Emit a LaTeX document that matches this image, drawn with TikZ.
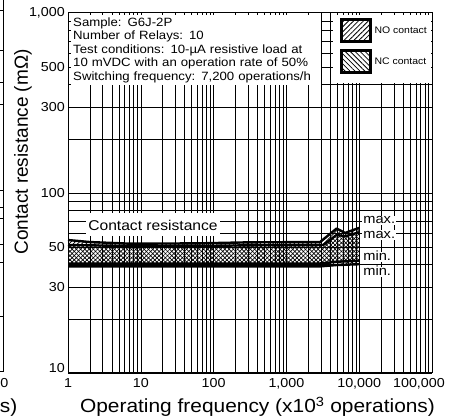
\documentclass[tikz,border=0pt]{standalone}
\usepackage{fontspec}
\setmainfont{Liberation Sans}[FakeStretch=1.1]
\newfontfamily\ytitlefont{Liberation Sans}
\usetikzlibrary{positioning, patterns.meta}

\begin{document}
\begin{tikzpicture}[x=1pt, y=1pt,
            declare function={lx(\ops)=72.8*log10(\ops); ly(\res)=180*(log10(\res)-1);},
            gridline/.style={line width=0.6pt},
            curve/.style={line width=2.4pt, line join=round},
            nohatch/.style={pattern={Lines[angle=45, distance=3pt, line width=0.7pt]}},
            nchatch/.style={pattern={Lines[angle=-45, distance=3pt, line width=0.7pt]}},
            ticklabel/.style={inner sep=0pt, font=\fontsize{13}{15}\selectfont},
            endlabel/.style={fill=white, inner sep=1.2pt, text height=7pt, text depth=0pt, anchor=west, font=\fontsize{13.3}{15}\selectfont},
            swatch/.style={draw, line width=3pt, minimum width=29pt, minimum height=22pt, inner sep=0pt},
            legendtext/.style={inner sep=0pt, font=\fontsize{9.5}{11}\selectfont}]

            \useasboundingbox (-68,-46) rectangle (386,373);

            % Edge of the neighbouring chart
            \draw[gridline] (-65,373) -- (-65,2) -- (-68,2);
            \foreach \r in {20,40,50,70,80,100,300,400,600,1000}
                \draw[gridline] (-68,{ly(\r)+2.7}) -- ++(3,0);
            \node[ticklabel, anchor=north east] (edgetick) at (-59.5,-5) {0};
            \node[inner sep=0pt, anchor=base east, font=\fontsize{19}{22}\selectfont] (edgetitle) at (-50.5,-40) {s)};

            % Log grid
            \foreach \d in {0,...,4}
                \foreach \m in {1,...,9}
                    \draw[gridline] ({72.8*(\d+log10(\m))},0) -- ++(0,360);
            \foreach \d in {0,1}
                \foreach \m in {1,...,9}
                    \draw[gridline] (0,{180*(\d+log10(\m))}) -- ++(364,0);

            % NO contact band
            \fill[nohatch]
                ({lx(1)},{ly(54.8)}) -- ({lx(2)},{ly(53.4)}) -- ({lx(7)},{ly(52.3)}) -- ({lx(60)},{ly(52.5)})
                -- ({lx(300)},{ly(53.2)}) -- ({lx(2900)},{ly(53.4)}) -- ({lx(4900)},{ly(63.5)}) -- ({lx(6400)},{ly(60)})
                -- ({lx(10000)},{ly(64)}) -- ({lx(10000)},{ly(40.2)}) -- ({lx(4900)},{ly(39.8)}) -- ({lx(2900)},{ly(39.1)})
                -- ({lx(1)},{ly(39.1)}) -- cycle;
            % NC contact band
            \fill[nchatch]
                ({lx(1)},{ly(51.4)}) -- ({lx(7)},{ly(50.8)}) -- ({lx(60)},{ly(50.8)}) -- ({lx(300)},{ly(51.2)})
                -- ({lx(3200)},{ly(51.4)}) -- ({lx(4900)},{ly(58.5)}) -- ({lx(6400)},{ly(57.5)}) -- ({lx(10000)},{ly(60.5)})
                -- ({lx(10000)},{ly(42)}) -- ({lx(4900)},{ly(41.5)}) -- ({lx(2900)},{ly(40.6)}) -- ({lx(1)},{ly(40.6)}) -- cycle;

            % max. and min. curves
            \draw[curve] ({lx(1)},{ly(54.8)}) -- ({lx(2)},{ly(53.4)}) -- ({lx(7)},{ly(52.3)}) -- ({lx(60)},{ly(52.5)})
                -- ({lx(300)},{ly(53.2)}) -- ({lx(2900)},{ly(53.4)}) -- ({lx(4900)},{ly(63.5)}) -- ({lx(6400)},{ly(60)})
                -- ({lx(10000)},{ly(64)});
            \draw[curve] ({lx(1)},{ly(51.4)}) -- ({lx(7)},{ly(50.8)}) -- ({lx(60)},{ly(50.8)}) -- ({lx(300)},{ly(51.2)})
                -- ({lx(3200)},{ly(51.4)}) -- ({lx(4900)},{ly(58.5)}) -- ({lx(6400)},{ly(57.5)}) -- ({lx(10000)},{ly(60.5)});
            \draw[curve] ({lx(1)},{ly(40.6)}) -- ({lx(2900)},{ly(40.6)}) -- ({lx(4900)},{ly(41.5)}) -- ({lx(10000)},{ly(42)});
            \draw[curve] ({lx(1)},{ly(39.1)}) -- ({lx(2900)},{ly(39.1)}) -- ({lx(4900)},{ly(39.8)}) -- ({lx(10000)},{ly(40.2)});

            % Test conditions box
            \node[fill=white, anchor=north west, text width=246pt, inner xsep=2pt, inner ysep=2.4pt, align=left,
                  font=\fontsize{12}{13.5}\selectfont] (info) at (3,358)
                {Sample: G6J-2P\\
                 Number of Relays: 10\\
                 Test conditions: 10-µA resistive load at\\
                 10 mVDC with an operation rate of 50\%\\
                 Switching frequency: 7,200 operations/h};

            % Legend
            \fill[white] (265,290) rectangle (363,358);
            \node[swatch, pattern={Lines[angle=45, distance=3.5pt, line width=0.8pt]}] (noSwatch) at (288,342.5) {};
            \node[swatch, pattern={Lines[angle=-45, distance=3.5pt, line width=0.8pt]}, below=8pt of noSwatch] (ncSwatch) {};
            \node[legendtext, right=3.5pt of noSwatch] (noText) {NO contact};
            \node[legendtext, right=3.5pt of ncSwatch] (ncText) {NC contact};

            % Curve labels
            \node[fill=white, inner xsep=2.5pt, minimum height=23pt, font=\fontsize{14.2}{16}\selectfont] (crLabel) at (85,148) {Contact resistance};
            \node[endlabel] (maxNO) at (294,152.5) {max.};
            \node[endlabel] (maxNC) at (294,138) {max.};
            \node[endlabel] (minNC) at (294,116) {min.};
            \node[endlabel] (minNO) at (294,101) {min.};

            % Frame
            \draw[line width=1pt] (0,0) rectangle (364,360);

            % Axis ticks and titles
            \foreach \r/\t in {1000/{1,000}, 500/500, 300/300, 100/100, 50/50, 30/30}
                \node[ticklabel, anchor=east] (y\r) at (-3,{ly(\r)}) {\t};
            \node[ticklabel, anchor=base east] (y10) at (-3,0) {10};
            \foreach \n/\t in {1/1, 10/10, 100/100, 1000/{1,000}, 10000/{10,000}}
                \node[ticklabel, anchor=north] (x\n) at ({lx(\n)},-5) {\t};
            \node[ticklabel, anchor=north east] (x100000) at (377,-5) {100,000};
            \node[inner sep=0pt, anchor=base, font=\fontsize{19}{22}\selectfont] (xtitle) at (189.5,-40)
                {Operating frequency (x10\textsuperscript{3} operations)};
            \node[inner sep=0pt, anchor=base, rotate=90, font=\ytitlefont\fontsize{19}{22}\selectfont] (ytitle) at (-40,221)
                {Contact resistance (mΩ)};
\end{tikzpicture}
\end{document}
